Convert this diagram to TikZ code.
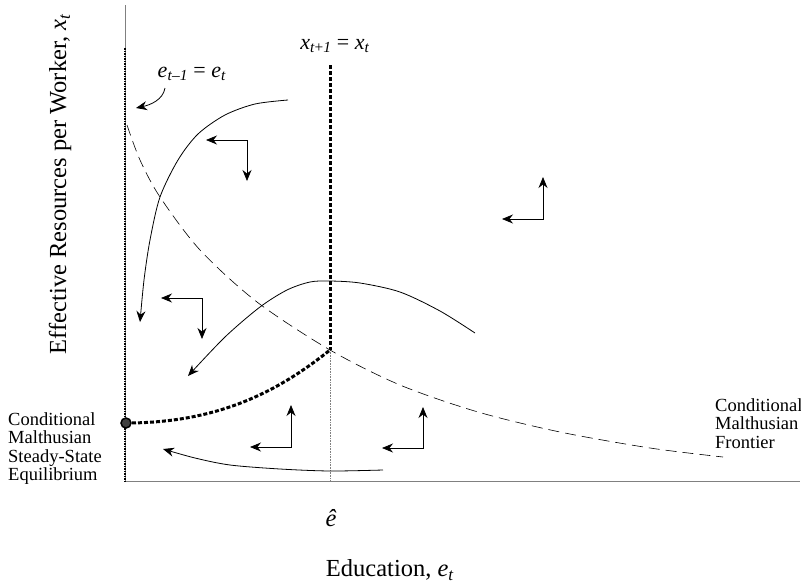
\documentclass[tikz,border=0pt]{standalone}
\usepackage{fontspec}
\setmainfont{Liberation Serif}
\usetikzlibrary{arrows.meta}

\begin{document}
\begin{tikzpicture}[x=1pt,y=-1pt,
  >={Stealth[length=11pt,width=9pt]},
  axis/.style={gray,line width=0.9pt},
  locus/.style={black,line width=3pt,dash pattern=on 4pt off 2pt},
  wall/.style={black,line width=1.6pt,dash pattern=on 1.5pt off 1pt},
  flow/.style={black,line width=0.8pt,->},
  frontier/.style={black,line width=0.6pt,dash pattern=on 11pt off 6pt},
  lbl/.style={font=\fontsize{18.5}{18.5}\selectfont,align=left,inner sep=0pt},
  eqlbl/.style={font=\fontsize{22}{24}\selectfont,inner sep=0pt},
  big/.style={font=\fontsize{24.5}{28}\selectfont,inner sep=0pt}]
\useasboundingbox (0,0) rectangle (801,587);
% ---- axes ----
\draw[axis] (125,5) -- (125,481) -- (800,481);
\draw[wall] (125,48) -- (125,481);
\node[big,rotate=90] (ylab) at (60,184) {Effective Resources per Worker, \textit{x}\textsubscript{\textit{t}}};
\node[big] (xlab) at (390,570) {Education, \textit{e}\textsubscript{\textit{t}}};
\node[big] (ehat) at (331,518) {\itshape ê};
% ---- loci ----
\draw[locus] (330,65) -- (330,350);
\draw[gray,densely dotted,line width=0.6pt] (330,350) -- (330,481);
\node[eqlbl] (xlocus) at (335,46) {\textit{x}\textsubscript{\textit{t}+\textit{1}} = \textit{x}\textsubscript{\textit{t}}};
\node[eqlbl] (elocus) at (192,74) {\textit{e}\textsubscript{\textit{t}–\textit{1}} = \textit{e}\textsubscript{\textit{t}}};
\draw[flow] (165,88) .. controls (163,100) and (150,105) .. (136,108);
\draw[frontier] plot[smooth] coordinates {(127,125) (140,160) (160,197) (200,250) (257,302) (330,350) (400,385) (478,412) (560,432) (650,448) (723,457)};
\draw[locus] (126,423) .. controls (220,423) and (280,390) .. (330,350);
% ---- trajectories ----
\draw[flow] plot[smooth] coordinates {(288,100) (255,104) (225,115) (198,134) (178,160) (160,197) (150,240) (144,280) (140,322)};
\draw[flow] plot[smooth] coordinates {(475,333) (440,311) (400,292) (360,283) (330,281) (310,282) (287,290) (260,307) (225,337) (188,376)};
\draw[flow] plot[smooth] coordinates {(383,470) (330,471) (280,469) (230,465) (195,458) (163,449)};
% ---- direction boxes ----
\foreach \cx/\cy/\dy in {247/140/41, 202/298/41, 543/219/-42, 291/447/-42, 423/448/-41}
  \draw[black,line width=0.8pt,<->] (\cx-41,\cy) -- (\cx,\cy) -- (\cx,\cy+\dy);
% ---- steady state ----
\node[circle,draw,line width=1.5pt,fill=black!75,minimum size=10pt,inner sep=0pt] (ss) at (126,423) {};
\node[lbl,anchor=north west] (sslab) at (8,412) {Conditional\\Malthusian\\Steady-State\\Equilibrium};
\node[lbl,anchor=north west] (frlab) at (715,398) {Conditional\\Malthusian\\Frontier};
\end{tikzpicture}
\end{document}
